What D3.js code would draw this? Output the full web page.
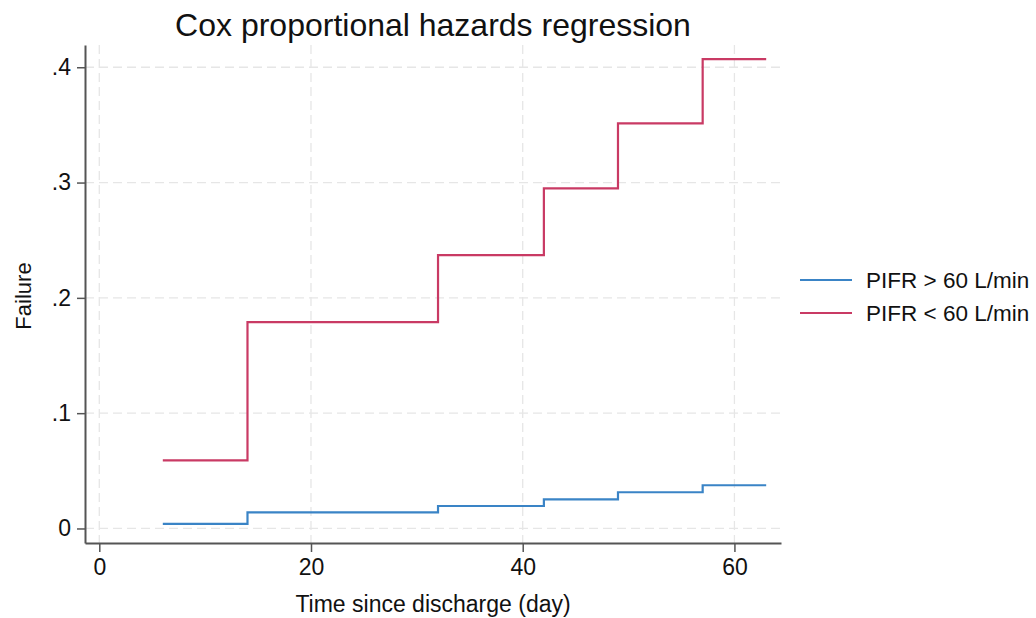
<!DOCTYPE html>
<html>
<head>
<meta charset="utf-8">
<script src="https://cdn.jsdelivr.net/npm/d3@7"></script>
<style>
  body { margin: 0; background: #fff; }
  text { font-family: "Liberation Sans", Arial, sans-serif; fill: #111; }
</style>
</head>
<body>
<svg id="chart"></svg>
<script>
// step times (day) and cumulative failure for each group
let times = [6, 14, 32, 42, 49, 57, 63]
let failHigh = [0.004, 0.014, 0.0195, 0.0253, 0.0314, 0.0375, 0.0375]
let failLow = [0.059, 0.179, 0.237, 0.295, 0.3514, 0.407, 0.407]
let seriesNames = ["PIFR > 60 L/min", "PIFR < 60 L/min"]
let seriesColors = ["#3a84c6", "#c93a64"]
let xTicks = [0, 20, 40, 60]
let yTicks = [0, 0.1, 0.2, 0.3, 0.4]
let yTickLabels = ["0", ".1", ".2", ".3", ".4"]

let width = 1036
let height = 618
let plotLeft = 85, plotRight = 781, plotTop = 45, plotBottom = 543

let chart = d3.select("#chart").attr("width", width).attr("height", height)

let xscale = d3.scaleLinear()
    .domain([-1.35, 64.4])
    .range([plotLeft, plotRight])

let yscale = d3.scaleLinear()
    .domain([-0.0126, 0.4193])
    .range([plotBottom, plotTop])

// grid
chart.append("g").selectAll("line").data(yTicks).enter().append("line")
    .attr("x1", plotLeft).attr("x2", plotRight)
    .attr("y1", d => yscale(d)).attr("y2", d => yscale(d))
    .style("stroke", "#e6e6e6").style("stroke-width", 1.3)
    .style("stroke-dasharray", "9,5")

chart.append("g").selectAll("line").data(xTicks).enter().append("line")
    .attr("x1", d => xscale(d)).attr("x2", d => xscale(d))
    .attr("y1", plotTop).attr("y2", plotBottom)
    .style("stroke", "#e6e6e6").style("stroke-width", 1.3)
    .style("stroke-dasharray", "9,5")

// axes
let xAxis = chart.append("g")
    .attr("transform", "translate(0," + plotBottom + ")")
    .call(d3.axisBottom(xscale).tickValues(xTicks).tickSize(9).tickPadding(7).tickSizeOuter(0))
let yAxis = chart.append("g")
    .attr("transform", "translate(" + plotLeft + ",0)")
    .call(d3.axisLeft(yscale).tickValues(yTicks).tickSize(8).tickPadding(6).tickSizeOuter(0)
        .tickFormat((d, i) => yTickLabels[i]))

for (let ax of [xAxis, yAxis]) {
    ax.select(".domain").style("stroke", "#555").style("stroke-width", 2)
    ax.selectAll(".tick line").style("stroke", "#555").style("stroke-width", 1.5)
    ax.selectAll(".tick text").style("font-size", "23px").style("fill", "#111")
        .style("font-family", "'Liberation Sans', Arial, sans-serif")
}

// step lines
let line = d3.line()
    .x(d => xscale(d[0]))
    .y(d => yscale(d[1]))
    .curve(d3.curveStepAfter)

let series = [failHigh, failLow]
series.forEach(function (vals, i) {
    chart.append("path")
        .datum(times.map((t, j) => [t, vals[j]]))
        .attr("d", line)
        .style("fill", "none")
        .style("stroke", seriesColors[i])
        .style("stroke-width", 2.2)
})

// titles
chart.append("text")
    .attr("x", 433).attr("y", 36)
    .style("text-anchor", "middle")
    .style("font-size", "32px")
    .text("Cox proportional hazards regression")

chart.append("text")
    .attr("x", 433).attr("y", 612)
    .style("text-anchor", "middle")
    .style("font-size", "23px")
    .text("Time since discharge (day)")

chart.append("text")
    .attr("transform", "translate(" + 31 + " ," + 296 + ") rotate(-90)")
    .style("text-anchor", "middle")
    .style("font-size", "22px")
    .text("Failure")

// legend
let legend = chart.append("g").selectAll("g").data(seriesNames).enter().append("g")
    .attr("transform", (d, i) => "translate(800," + (280 + i * 33) + ")")
legend.append("line")
    .attr("x1", 0).attr("x2", 52)
    .style("stroke", (d, i) => seriesColors[i])
    .style("stroke-width", 2)
legend.append("text")
    .attr("x", 66).attr("y", 8)
    .style("font-size", "22.5px")
    .text(d => d)
</script>
</body>
</html>
